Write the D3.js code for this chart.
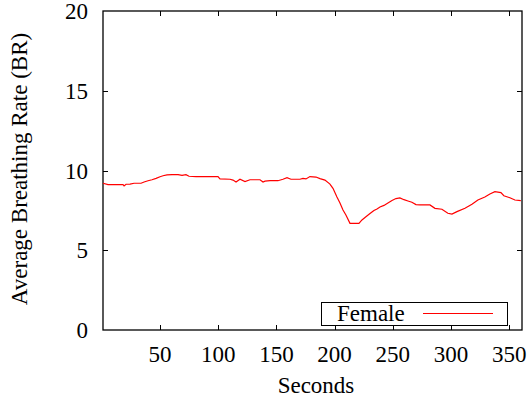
<!DOCTYPE html>
<html>
<head>
<meta charset="utf-8">
<script src="https://cdn.jsdelivr.net/npm/d3@7"></script>
<style>
html,body{margin:0;padding:0;background:#fff;}
svg{display:block;}
text{font-family:"Liberation Serif","Times New Roman",serif;fill:#000;}
</style>
</head>
<body>
<svg id="chart" width="531" height="402"></svg>
<script>
const seconds = [1,5.3,11.4,18.2,19.1,20.8,24.2,27.7,33.7,36.3,39.7,43.1,46.6,50,52.6,56,60.3,65.5,68.9,72.3,74.9,80.9,88.6,94.7,99.8,101.5,110.1,112.7,115.3,118.7,123,127.3,135.9,138.5,140.2,144.5,151.3,155.6,159.1,162.5,170.2,172.8,175.4,178.8,184,187.4,191.7,196,198.6,202,204.6,207.2,209.7,213.2,220.9,223.5,226.9,230.4,233.8,236.4,239,242.4,245.8,249.3,252.7,256.1,259.6,263,266.4,269.9,273.3,281.9,286.2,292.2,297.3,300.8,305.1,312,318,323.1,329.1,333.4,337.7,342.9,345.4,350.6,354.9,360];
const femaleRate = [9.20,9.12,9.11,9.11,9.03,9.14,9.15,9.20,9.20,9.28,9.36,9.42,9.51,9.61,9.67,9.72,9.74,9.74,9.69,9.74,9.64,9.61,9.61,9.61,9.61,9.47,9.45,9.40,9.28,9.45,9.30,9.42,9.42,9.28,9.33,9.36,9.36,9.45,9.55,9.45,9.45,9.50,9.47,9.62,9.59,9.49,9.40,9.15,8.88,8.34,7.96,7.52,7.21,6.69,6.69,6.90,7.10,7.30,7.49,7.59,7.71,7.81,7.96,8.12,8.24,8.28,8.17,8.09,8.01,7.86,7.84,7.84,7.63,7.57,7.32,7.27,7.42,7.63,7.88,8.15,8.34,8.53,8.67,8.61,8.42,8.29,8.15,8.11];
const xTicks = [50,100,150,200,250,300,350];
const yTicks = [0,5,10,15,20];
const seriesName = "Female";
const xLabel = "Seconds";
const yLabel = "Average Breathing Rate (BR)";

const svg = d3.select("#chart");
const L = 103, R = 522, T = 11, B = 330;
const x = d3.scaleLinear().domain([1, 361]).range([L, R]);
const y = d3.scaleLinear().domain([0, 20]).range([B, T]);
const fs = 23, tick = 5;

// frame
svg.append("rect").attr("x", L).attr("y", T).attr("width", R - L).attr("height", B - T)
  .attr("fill", "none").attr("stroke", "#000").attr("stroke-width", 1.3);

// x ticks (bottom + mirrored top)
const gx = svg.append("g");
xTicks.forEach(t => {
  const px = Math.round(x(t)) + 0.5;
  gx.append("line").attr("x1", px).attr("x2", px).attr("y1", B).attr("y2", B - tick).attr("stroke", "#000");
  gx.append("line").attr("x1", px).attr("x2", px).attr("y1", T).attr("y2", T + tick).attr("stroke", "#000");
  gx.append("text").attr("x", x(t)).attr("y", 362).attr("text-anchor", "middle")
    .attr("font-size", fs).text(t);
});
// y ticks (left + mirrored right)
const gy = svg.append("g");
yTicks.forEach(t => {
  const py = Math.round(y(t)) + 0.5;
  if (t > 0 && t < 20) {
    gy.append("line").attr("x1", L).attr("x2", L + tick).attr("y1", py).attr("y2", py).attr("stroke", "#000");
    gy.append("line").attr("x1", R).attr("x2", R - tick).attr("y1", py).attr("y2", py).attr("stroke", "#000");
  }
  gy.append("text").attr("x", 88).attr("y", y(t) + 8).attr("text-anchor", "end")
    .attr("font-size", fs).text(t);
});

// axis titles
svg.append("text").attr("x", x(184)).attr("y", 393).attr("text-anchor", "middle")
  .attr("font-size", fs).text(xLabel);
svg.append("text").attr("transform", "translate(27,169) rotate(-90)").attr("text-anchor", "middle")
  .attr("font-size", fs).text(yLabel);

// data line
const data = seconds.map((s, i) => [s, femaleRate[i]]);
svg.append("path").datum(data)
  .attr("fill", "none").attr("stroke", "#ff0000").attr("stroke-width", 1.2)
  .attr("d", d3.line().x(d => x(d[0])).y(d => y(d[1])));

// legend
const lg = svg.append("g");
lg.append("rect").attr("x", 321.5).attr("y", 302.5).attr("width", 186).attr("height", 23)
  .attr("fill", "#fff").attr("stroke", "#000").attr("stroke-width", 1);
lg.append("text").attr("x", 337).attr("y", 321).attr("font-size", fs).text(seriesName);
lg.append("line").attr("x1", 423).attr("x2", 493).attr("y1", 313.5).attr("y2", 313.5)
  .attr("stroke", "#ff0000").attr("stroke-width", 1.2);
</script>
</body>
</html>
